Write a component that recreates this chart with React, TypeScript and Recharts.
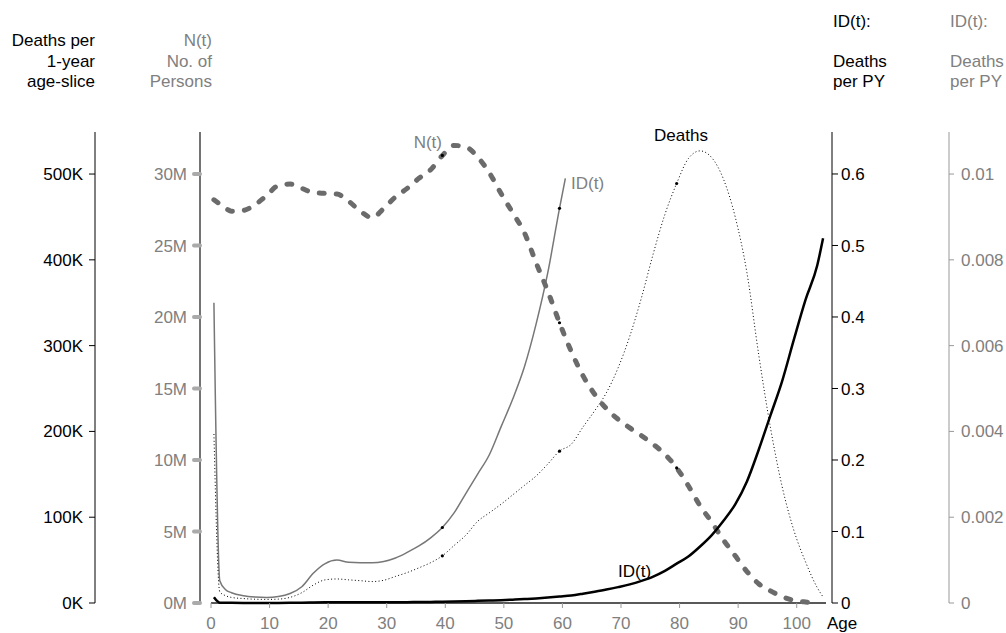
import React from "react";
import {
  ComposedChart,
  Line,
  XAxis,
  YAxis,
  ReferenceLine,
} from "recharts";

// age (mid-point of each 1-year slice)
const AGES = [
  0.5, 1.5, 2.5, 3.5, 5.5, 7.5, 9.5, 11.5, 13.5, 15.5, 17.5, 19.5, 21.5, 23.5,
  25.5, 27.5, 29.5, 31.5, 33.5, 35.5, 37.5, 39.5, 41.5, 43.5, 45.5, 47.5, 49.5,
  51.5, 53.5, 55.5, 57.5, 59.5, 60.5, 61.5, 63.5, 65.5, 67.5, 69.5, 71.5, 73.5,
  75.5, 77.5, 79.5, 81.5, 83.5, 85.5, 87.5, 89.5, 91.5, 93.5, 95.5, 97.5, 99.5,
  101.5, 103.5, 104.5,
];

// N(t), millions of persons
const PERSONS_M = [
  28.2, 27.9, 27.6, 27.4, 27.45, 27.85, 28.5, 29.2, 29.3, 29.0, 28.7, 28.65,
  28.6, 28.1, 27.4, 26.95, 27.6, 28.4, 29.0, 29.7, 30.3, 31.3, 32.0, 31.9, 31.2,
  30.1, 28.65, 27.3, 25.9, 23.8, 21.8, 19.6, null, 17.6, 15.9, 14.6, 13.6, 12.85,
  12.25, 11.7, 11.1, 10.4, 9.45, 8.2, 6.8, 5.65, 4.4, 3.3, 2.2, 1.35, 0.85, 0.45,
  0.18, 0.07, 0.02, null,
];

// deaths per 1-year age slice, thousands
const DEATHS_K = [
  197, 13, 8.5, 6.5, 5.2, 4.4, 4.2, 4.5, 6.6, 12, 21, 27, 28, 27, 26, 25, 26.5,
  31, 35.5, 41, 47, 55, 67, 79, 95, 105, 115, 126, 137, 148, 162, 177, null, 185,
  205, 224, 245, 274, 311, 356, 407, 453, 489, 518, 527, 519, 494, 450, 385, 290,
  205, 136, 85, 48, 18, 7,
];

// ID(t) on the fine (grey) scale, only up to age 60
const ID_FINE = [
  0.007, 0.00052, 0.00031, 0.00024, 0.00017, 0.00014, 0.00013, 0.00015, 0.00022,
  0.00038, 0.0007, 0.00092, 0.001, 0.00095, 0.00094, 0.00094, 0.00097, 0.00105,
  0.00118, 0.00133, 0.00152, 0.00176, 0.0021, 0.00255, 0.003, 0.00345, 0.0041,
  0.00475, 0.0055, 0.0065, 0.0077, 0.0092, 0.0099, null, null, null, null, null,
  null, null, null, null, null, null, null, null, null, null, null, null, null,
  null, null, null, null, null,
];

// ID(t) on the coarse (black) scale
const ID_COARSE = [
  0.008, 0.0005, 0.0003, 0.0002, 0.00015, 0.00013, 0.00013, 0.00015, 0.0002,
  0.0004, 0.0007, 0.0009, 0.001, 0.00095, 0.00094, 0.00095, 0.001, 0.001,
  0.0012, 0.0013, 0.0015, 0.0018, 0.0021, 0.0025, 0.003, 0.0035, 0.004, 0.0047,
  0.0055, 0.0064, 0.0076, 0.009, null, 0.0105, 0.013, 0.0158, 0.0188, 0.0222,
  0.026, 0.031, 0.037, 0.045, 0.055, 0.065, 0.079, 0.095, 0.115, 0.138, 0.17,
  0.214, 0.262, 0.31, 0.368, 0.424, 0.472, 0.51,
];

const MARKED_AGES = [39.5, 59.5, 79.5];

const AGE_TICKS = [0, 10, 20, 30, 40, 50, 60, 70, 80, 90, 100];
const DEATH_TICKS = [0, 100, 200, 300, 400, 500];
const PERSON_TICKS = [0, 5, 10, 15, 20, 25, 30];
const ID_COARSE_TICKS = [0, 0.1, 0.2, 0.3, 0.4, 0.5, 0.6];
const ID_FINE_TICKS = [0, 0.002, 0.004, 0.006, 0.008, 0.01];

const rows = AGES.map((age, i) => ({
  age,
  persons: PERSONS_M[i],
  deaths: DEATHS_K[i],
  idFine: ID_FINE[i],
  idCoarse: ID_COARSE[i],
}));

const FONT = '"Liberation Sans", Arial, Helvetica, sans-serif';
const GREY_TEXT = "#808080";
const FS = 17;

// axis ids: recharts stacks same-side axes by id, first one next to the plot
const AX_PERSONS = "a1Persons";
const AX_DEATHS = "a2Deaths";
const AX_ID_COARSE = "a3IdCoarse";
const AX_ID_FINE = "a4IdFine";

function markDot(props: any) {
  const { cx, cy, payload, index } = props;
  if (payload && MARKED_AGES.includes(payload.age) && cx != null && cy != null) {
    return <circle key={`m${index}`} cx={cx} cy={cy} r={1.6} fill="#000" />;
  }
  return <g key={`m${index}`} />;
}

function Annotations() {
  const t = { fontFamily: FONT, fontSize: FS };
  return (
    <svg
      width={990}
      height={625}
      style={{
        position: "absolute",
        left: 0,
        top: 0,
        pointerEvents: "none",
        overflow: "visible",
      }}
    >
      {/* axis titles */}
      <text {...t} fill="#000" textAnchor="end">
        <tspan x={87} y={38}>Deaths per</tspan>
        <tspan x={87} y={59}>1-year</tspan>
        <tspan x={87} y={79}>age-slice</tspan>
      </text>
      <text {...t} fill={GREY_TEXT} textAnchor="end">
        <tspan x={204} y={38}>N(t)</tspan>
        <tspan x={204} y={59}>No. of</tspan>
        <tspan x={204} y={79}>Persons</tspan>
      </text>
      <text {...t} fill="#000">
        <tspan x={825} y={19}>ID(t):</tspan>
        <tspan x={825} y={59}>Deaths</tspan>
        <tspan x={825} y={79}>per PY</tspan>
      </text>
      <text {...t} fill={GREY_TEXT}>
        <tspan x={942} y={19}>ID(t):</tspan>
        <tspan x={942} y={59}>Deaths</tspan>
        <tspan x={942} y={79}>per PY</tspan>
      </text>

      {/* series labels */}
      <text {...t} fill={GREY_TEXT} x={434} y={140} textAnchor="end">N(t)</text>
      <text {...t} fill={GREY_TEXT} x={563} y={181}>ID(t)</text>
      <text {...t} fill="#000" x={673} y={133} textAnchor="middle">Deaths</text>
      <text {...t} fill="#000" x={610} y={569}>ID(t)</text>
      <text {...t} fill="#000" x={819} y={621}>Age</text>
    </svg>
  );
}

export default function App() {
  return (
    <div style={{ width: 998, height: 625, padding: "8px 0 0 8px", fontFamily: FONT }}>
      <style>{`body{margin:0} .recharts-surface{overflow:visible}`}</style>
      <div style={{ position: "relative", width: 990, height: 625 }}>
        <ComposedChart
          width={990}
          height={625}
          data={rows}
          margin={{ top: 124, right: 0, bottom: 0, left: 0 }}
        >
          <XAxis
            dataKey="age"
            type="number"
            domain={[0, 105]}
            ticks={AGE_TICKS}
            padding={{ left: 11, right: 6 }}
            axisLine={false}
            tickLine={{ stroke: "#999" }}
            tickSize={5}
            tickMargin={9}
            height={30}
            tick={{ fill: GREY_TEXT, fontSize: FS }}
            allowDataOverflow
          />
          <YAxis
            yAxisId={AX_PERSONS}
            orientation="left"
            width={105}
            domain={[0, 32.94]}
            ticks={PERSON_TICKS}
            tickFormatter={(v) => `${v}M`}
            axisLine={{ stroke: "#444", strokeWidth: 1.5 }}
            tickLine={{ stroke: "#aaa", strokeWidth: 4, strokeLinecap: "round" }}
            tickSize={6}
            tickMargin={7}
            tick={{ fill: GREY_TEXT, fontSize: FS }}
          />
          <YAxis
            yAxisId={AX_DEATHS}
            orientation="left"
            width={87}
            domain={[0, 549]}
            ticks={DEATH_TICKS}
            tickFormatter={(v) => `${v}K`}
            axisLine={{ stroke: "#000" }}
            tickLine={{ stroke: "#000" }}
            tickSize={6}
            tickMargin={6}
            tick={{ fill: "#000", fontSize: FS }}
          />
          <YAxis
            yAxisId={AX_ID_COARSE}
            orientation="right"
            width={117}
            domain={[0, 0.6587]}
            ticks={ID_COARSE_TICKS}
            tickFormatter={(v) => String(v)}
            axisLine={{ stroke: "#000" }}
            tickLine={{ stroke: "#000" }}
            tickSize={6}
            tickMargin={3}
            tick={{ fill: "#000", fontSize: FS }}
          />
          <YAxis
            yAxisId={AX_ID_FINE}
            orientation="right"
            width={49}
            domain={[0, 0.01098]}
            ticks={ID_FINE_TICKS}
            tickFormatter={(v) => String(v)}
            axisLine={{ stroke: "#999" }}
            tickLine={{ stroke: "#999" }}
            tickSize={5}
            tickMargin={7}
            tick={{ fill: GREY_TEXT, fontSize: FS }}
          />

          <ReferenceLine
            yAxisId={AX_DEATHS}
            segment={[
              { x: 0, y: 0 },
              { x: 105, y: 0 },
            ]}
            stroke="#222"
            strokeWidth={1.3}
          />

          <Line
            yAxisId={AX_ID_FINE}
            dataKey="idFine"
            type="monotone"
            stroke="#777"
            strokeWidth={1.5}
            dot={markDot}
            activeDot={false}
            isAnimationActive={false}
          />
          <Line
            yAxisId={AX_DEATHS}
            dataKey="deaths"
            type="monotone"
            stroke="#000"
            strokeWidth={1}
            strokeDasharray="1 2.4"
            dot={markDot}
            activeDot={false}
            connectNulls
            isAnimationActive={false}
          />
          <Line
            yAxisId={AX_PERSONS}
            dataKey="persons"
            type="monotone"
            stroke="#6b6b6b"
            strokeWidth={5}
            strokeDasharray="5 12"
            strokeLinecap="round"
            dot={markDot}
            activeDot={false}
            connectNulls
            isAnimationActive={false}
          />
          <Line
            yAxisId={AX_ID_COARSE}
            dataKey="idCoarse"
            type="monotone"
            stroke="#000"
            strokeWidth={2.5}
            dot={false}
            activeDot={false}
            connectNulls
            isAnimationActive={false}
          />
        </ComposedChart>
        <Annotations />
      </div>
    </div>
  );
}
